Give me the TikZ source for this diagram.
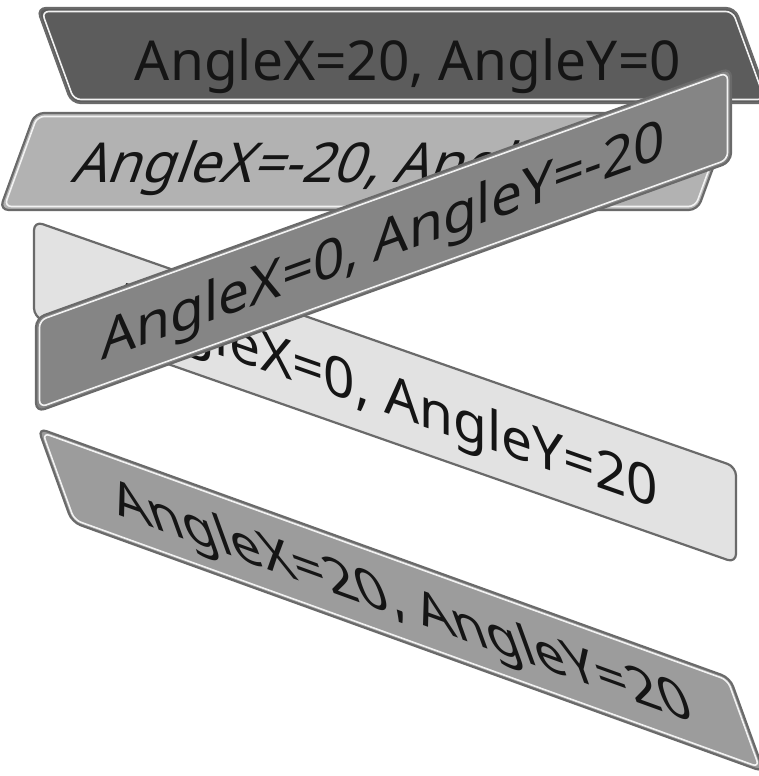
\documentclass[tikz,border=0pt]{standalone}
\usepackage{fontspec}
\setmainfont{Noto Sans}
\definecolor{fillA}{HTML}{5C5C5C}
\definecolor{fillB}{HTML}{B2B2B2}
\definecolor{fillC}{HTML}{858585}
\definecolor{fillD}{HTML}{E2E2E2}
\definecolor{fillE}{HTML}{9C9C9C}
\definecolor{edgecol}{HTML}{6A6A6A}
\definecolor{shinecol}{HTML}{F2F2F2}
\definecolor{txtcol}{HTML}{151515}
\begin{document}
\begin{tikzpicture}[x=1pt,y=-1pt,
  plate/.style={fill=#1, draw=edgecol, line width=2.2pt, rounded corners=9pt},
  shine/.style={draw=shinecol, line width=1.6pt, rounded corners=7pt},
  skewtext/.style={font=\fontsize{55}{55}\selectfont, text=txtcol, anchor=base, inner sep=0pt}]
\useasboundingbox (0,0) rectangle (758,776);
\fill[white] (0,0) rectangle (758,776);
% 1: AngleX=20, AngleY=0
\begin{scope}[shift={(403.3,55.5)}, cm={1,0,-0.364,1,(0,0)}]
  \draw[plate=fillA] (-349,-47.5) rectangle (349,47.5);
  \draw[shine] (-345.5,-44) rectangle (345.5,44);
\end{scope}
\node[skewtext] (t1) at (408,81) {AngleX=20, AngleY=0};
% 2: AngleX=-20, AngleY=0
\begin{scope}[shift={(366.3,161.5)}, cm={1,0,0.364,1,(0,0)}]
  \draw[plate=fillB] (-349,-48.5) rectangle (349,48.5);
  \draw[shine] (-345.5,-45) rectangle (345.5,45);
  \node[skewtext, transform shape] (t2) at (-6,21) {AngleX=-20, AngleY=0};
\end{scope}
% 4: AngleX=0, AngleY=20
\begin{scope}[shift={(385,392)}, cm={1,-0.35,0,1,(0,0)}]
  \draw[plate=fillD] (-351,-48) rectangle (351,48);
  \node[skewtext, transform shape] (t4) at (0,21) {AngleX=0, AngleY=20};
\end{scope}
% 3: AngleX=0, AngleY=-20
\begin{scope}[shift={(383.5,240)}, cm={1,0.36,0,1,(0,0)}]
  \draw[plate=fillC] (-347.5,-47) rectangle (347.5,47);
  \draw[shine] (-344,-43.5) rectangle (344,43.5);
  \node[skewtext, transform shape] (t3) at (0,19) {AngleX=0, AngleY=-20};
\end{scope}
% 5: AngleX=20, AngleY=20
\begin{scope}[shift={(401,600)}, cm={1,-0.361,-0.362,1,(0,0)}]
  \draw[plate=fillE] (-346,-47) rectangle (346,47);
  \draw[shine] (-342.5,-43.5) rectangle (342.5,43.5);
  \node[skewtext, transform shape] (t5) at (0,20) {AngleX=20, AngleY=20};
\end{scope}
\end{tikzpicture}
\end{document}
